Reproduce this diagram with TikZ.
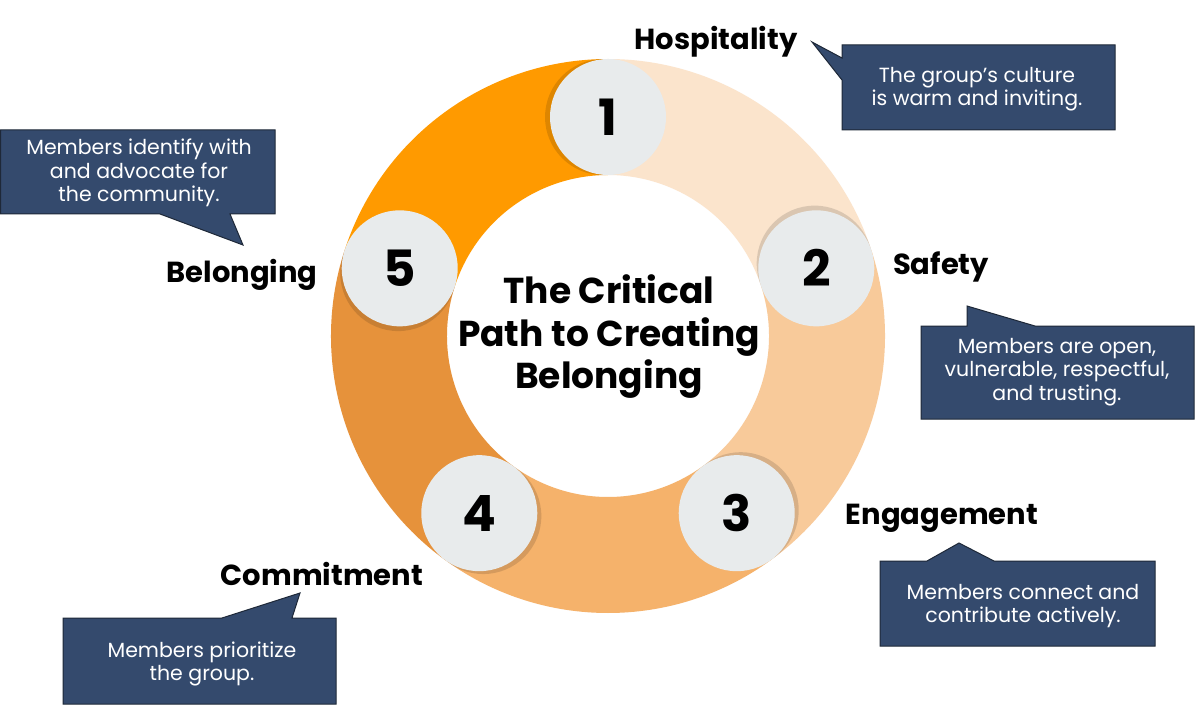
\documentclass[tikz,border=0pt]{standalone}
\usepackage{fontspec}
\setmainfont{Poppins}
\definecolor{segA}{HTML}{FF9A00}
\definecolor{segB}{HTML}{FBE4CC}
\definecolor{segC}{HTML}{F8CA9A}
\definecolor{segD}{HTML}{F5B26B}
\definecolor{segE}{HTML}{E6923B}
\definecolor{disc}{HTML}{E8EBEC}
\definecolor{boxblue}{HTML}{344A6D}
\definecolor{boxline}{HTML}{1E2838}
\tikzset{
  callout/.style={fill=boxblue,draw=boxline,line width=1pt,line join=miter},
  calltext/.style={text=white,align=center,font=\fontsize{20.5}{23.5}\selectfont,inner sep=0pt},
  steplabel/.style={font=\fontsize{29}{32}\selectfont\bfseries,inner sep=0pt},
  numdisc/.style={circle,fill=disc,minimum size=116pt,inner sep=0pt},
  numtext/.style={font=\fontsize{50}{52}\selectfont\bfseries,inner sep=0pt},
  discshadow/.style={circle,fill=black,fill opacity=0.13,minimum size=116pt,inner sep=0pt},
}
\begin{document}
\begin{tikzpicture}[x=1pt,y=-1pt]
\useasboundingbox (0,0) rectangle (1195,706);
\fill[white] (0,0) rectangle (1195,706);
% ring
\begin{scope}[shift={(608,336)},yscale=-1]
  \foreach \a/\b/\c in {162/90/segA,90/18/segB,18/-54/segC,-54/-126/segD,-126/-198/segE}{
    \fill[\c] (\a:277) arc[start angle=\a,end angle=\b,radius=277]
      -- (\b:161) arc[start angle=\b,end angle=\a,radius=161] -- cycle;
  }
  \foreach \t in {90,18,-54,-126,162}{
    \node[discshadow] at ({\t+1.3}:219) {};
  }
  \node[numdisc] (n1) at (90:219) {};
  \node[numdisc] (n2) at (18:219) {};
  \node[numdisc] (n3) at (-54:219) {};
  \node[numdisc] (n4) at (-126:219) {};
  \node[numdisc] (n5) at (162:219) {};
\end{scope}
\node[numtext] (d1) at (n1) {1};
\node[numtext] (d2) at (n2) {2};
\node[numtext] (d3) at (n3) {3};
\node[numtext] (d4) at (n4) {4};
\node[numtext] (d5) at (n5) {5};
% title
\node[align=center,font=\fontsize{36}{42.5}\selectfont\bfseries,inner sep=0pt] (title) at (609,337)
  {The Critical\\Path to Creating\\Belonging};
% labels
\node[steplabel] (l1) at (716,42) {Hospitality};
\node[steplabel] (l2) at (941,267) {Safety};
\node[steplabel] (l3) at (942,518) {Engagement};
\node[steplabel] (l4) at (322,574) {Commitment};
\node[steplabel] (l5) at (242,275) {Belonging};
% callouts
\draw[callout] (842,45) -- (1115,45) -- (1115,130) -- (842,130) -- (842,80) -- (812,42) -- (842,58) -- cycle;
\draw[callout] (921,326) -- (967,326) -- (967,306) -- (1035,326) -- (1194,326) -- (1194,419) -- (921,419) -- cycle;
\draw[callout] (880,561) -- (927,561) -- (959,543) -- (994,561) -- (1155,561) -- (1155,646) -- (880,646) -- cycle;
\draw[callout] (63,618) -- (222,618) -- (300,593) -- (292,618) -- (336,618) -- (336,704) -- (63,704) -- cycle;
\draw[callout] (0.5,130) -- (275,130) -- (275,214) -- (230,214) -- (243,245) -- (160,214) -- (0.5,214) -- cycle;
\node[calltext] (c1) at (977,89) {The group’s culture\\is warm and inviting.};
\node[calltext] (c2) at (1057,372) {Members are open,\\vulnerable, respectful,\\and trusting.};
\node[calltext] (c3) at (1023,606) {Members connect and\\contribute actively.};
\node[calltext] (c4) at (202,664) {Members prioritize\\the group.};
\node[calltext] (c5) at (139,173) {Members identify with\\and advocate for\\the community.};
\end{tikzpicture}
\end{document}
